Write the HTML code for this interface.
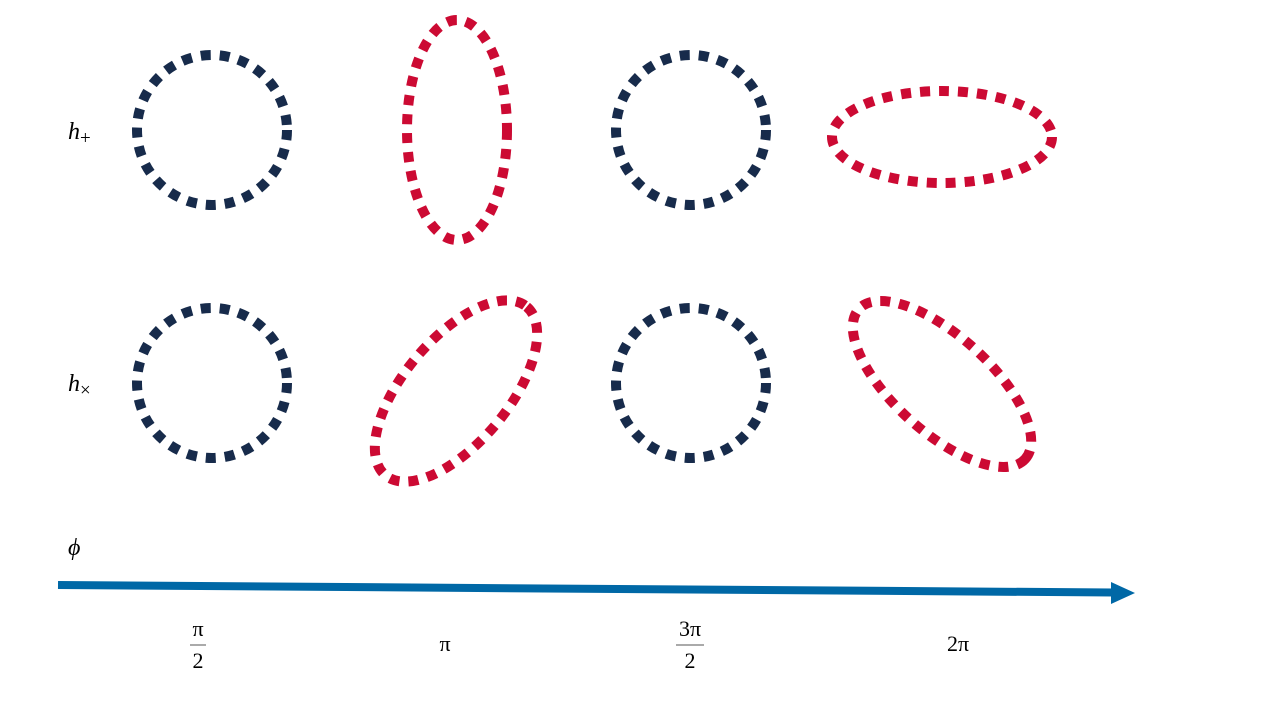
<!DOCTYPE html>
<html><head><meta charset="utf-8"><style>
html,body{margin:0;padding:0;background:#fff;width:1280px;height:720px;overflow:hidden}
svg{display:block}
.lab{font-family:"Liberation Serif",serif;font-style:italic;font-size:24px;fill:#000}
.tick{font-family:"Liberation Serif",serif;font-size:22px;fill:#000}
</style></head><body>
<svg id="fig" width="1280" height="720" viewBox="0 0 1280 720">
  <text class="lab" x="68" y="139">h<tspan font-style="normal" font-size="19" dy="5">+</tspan></text>
  <text class="lab" x="68" y="391">h<tspan font-style="normal" font-size="19" dy="5">×</tspan></text>
  <text class="lab" x="68" y="555">ϕ</text>
  <g>
    <line x1="58" y1="585" x2="1113" y2="592.5" stroke="#0068a6" stroke-width="8"/>
    <polygon points="1111,582 1135,593 1111,604" fill="#0068a6"/>
  </g>
  <g id="shapes"></g>
  <g id="ticks"></g>
</svg>
<script>
// shape data: center x, center y, semi-axes, rotation (deg), type
const shapeNames = ['plus-pi-half','plus-pi','plus-3pi-half','plus-2pi','cross-pi-half','cross-pi','cross-3pi-half','cross-2pi'];
const shapeCx = [212, 457, 691, 942, 212, 456, 691, 942];
const shapeCy = [130, 130, 130, 137, 383, 391, 383, 384];
const shapeRx = [75, 50, 75, 110, 75, 110, 75, 112];
const shapeRy = [75, 110, 75, 46, 75, 52, 75, 48];
const shapeRot = [0, 0, 0, 0, 0, -50, 0, 42];
const shapeRed = [false, true, false, true, false, true, false, true];
const tickLabels = ['π/2', 'π', '3π/2', '2π'];
const tickX = [198, 445, 690, 958];

const NS = 'http://www.w3.org/2000/svg';
const g = document.getElementById('shapes');
for (let i = 0; i < shapeCx.length; i++) {
  const e = document.createElementNS(NS, 'ellipse');
  e.setAttribute('cx', shapeCx[i]);
  e.setAttribute('cy', shapeCy[i]);
  e.setAttribute('rx', shapeRx[i]);
  e.setAttribute('ry', shapeRy[i]);
  e.setAttribute('transform', `rotate(${shapeRot[i]} ${shapeCx[i]} ${shapeCy[i]})`);
  e.setAttribute('fill', 'none');
  e.setAttribute('stroke', shapeRed[i] ? '#cc0a33' : '#172b4b');
  e.setAttribute('stroke-width', '10');
  e.setAttribute('stroke-dasharray', '10 9');
  
  
  g.appendChild(e);
}
const tg = document.getElementById('ticks');
for (let i = 0; i < tickLabels.length; i++) {
  const lab = tickLabels[i];
  const grp = document.createElementNS(NS, 'g');
  
  
  if (lab.includes('/')) {
    const [num, den] = lab.split('/');
    const t1 = document.createElementNS(NS, 'text');
    t1.setAttribute('class', 'tick'); t1.setAttribute('x', tickX[i]); t1.setAttribute('y', 636);
    t1.setAttribute('text-anchor', 'middle'); t1.textContent = num;
    const ln = document.createElementNS(NS, 'line');
    ln.setAttribute('x1', tickX[i] - num.length * 6 - 2); ln.setAttribute('x2', tickX[i] + num.length * 6 + 2);
    ln.setAttribute('y1', 645); ln.setAttribute('y2', 645);
    ln.setAttribute('stroke', '#555'); ln.setAttribute('stroke-width', '1');
    const t2 = document.createElementNS(NS, 'text');
    t2.setAttribute('class', 'tick'); t2.setAttribute('x', tickX[i]); t2.setAttribute('y', 668);
    t2.setAttribute('text-anchor', 'middle'); t2.textContent = den;
    grp.appendChild(t1); grp.appendChild(ln); grp.appendChild(t2);
  } else {
    const t = document.createElementNS(NS, 'text');
    t.setAttribute('class', 'tick'); t.setAttribute('x', tickX[i]); t.setAttribute('y', 651);
    t.setAttribute('text-anchor', 'middle'); t.textContent = lab;
    grp.appendChild(t);
  }
  tg.appendChild(grp);
}
</script>
</body></html>
